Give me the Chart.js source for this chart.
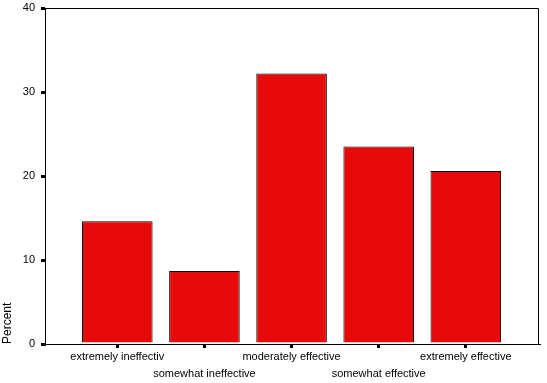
<!DOCTYPE html>
<html>
<head>
<meta charset="utf-8">
<script src="https://cdn.jsdelivr.net/npm/chart.js@4"></script>
<style>
  html, body { margin: 0; padding: 0; background: #fff; }
  #wrap { width: 547px; height: 383px; }
</style>
</head>
<body>
<div id="wrap"><canvas id="chart"></canvas></div>
<script>
const categories = ['extremely ineffectiv', 'somewhat ineffective', 'moderately effective', 'somewhat effective', 'extremely effective'];
const percents = [14.6, 8.7, 32.2, 23.5, 20.6];
const yTicks = [0, 10, 20, 30, 40];

// draws the top and right edges of the plot box
const boxPlugin = {
  id: 'box',
  afterDraw(chart) {
    const { ctx, chartArea: a } = chart;
    ctx.save();
    ctx.strokeStyle = '#000';
    ctx.lineWidth = 1;
    ctx.beginPath();
    ctx.moveTo(a.left, a.top + 0.5);
    ctx.lineTo(a.right - 0.5, a.top + 0.5);
    ctx.lineTo(a.right - 0.5, a.bottom);
    ctx.stroke();
    ctx.restore();
  }
};

const font = { family: 'Liberation Sans, Arial, sans-serif', size: 11 };

new Chart(document.getElementById('chart').getContext('2d'), {
  type: 'bar',
  data: {
    datasets: [{
      data: percents.map((v, i) => ({ x: i, y: v })),
      backgroundColor: '#e60a0a',
      borderColor: '#000',
      borderWidth: 1,
      borderSkipped: 'bottom',
      barPercentage: 0.81,
      categoryPercentage: 1
    }]
  },
  options: {
    responsive: true,
    maintainAspectRatio: false,
    animation: false,
    layout: { padding: { top: 8, right: 8 } },
    plugins: { legend: { display: false }, tooltip: { enabled: false } },
    scales: {
      x: {
        type: 'linear',
        offset: false,
        min: -0.83,
        max: 4.84,
        afterBuildTicks: (scale) => { scale.ticks = categories.map((c, i) => ({ value: i })); },
        afterFit: (scale) => { scale.height = 39; },
        grid: { offset: false, drawOnChartArea: false, tickLength: 4, tickColor: '#000', lineWidth: 3 },
        border: { color: '#000', width: 1 },
        ticks: {
          color: '#000',
          font: { family: 'Liberation Sans, Arial, sans-serif', size: 11, lineHeight: 1.6 },
          padding: 0,
          maxRotation: 0,
          autoSkip: false,
          callback: (v) => (v % 2 === 0 ? [categories[v]] : ['', categories[v]])
        }
      },
      y: {
        min: 0,
        max: 40,
        afterBuildTicks: (scale) => { scale.ticks = yTicks.map(v => ({ value: v })); },
        afterFit: (scale) => { scale.width = 45; scale.paddingTop = 0; },
        grid: { drawOnChartArea: false, tickLength: 4, tickColor: '#000', lineWidth: 3 },
        border: { color: '#000', width: 1 },
        ticks: { color: '#000', font: font, padding: 6 },
        title: {
          display: true,
          text: 'Percent',
          align: 'start',
          color: '#000',
          font: { family: 'Liberation Sans, Arial, sans-serif', size: 12 },
          padding: 0
        }
      }
    }
  },
  plugins: [boxPlugin]
});
</script>
</body>
</html>
